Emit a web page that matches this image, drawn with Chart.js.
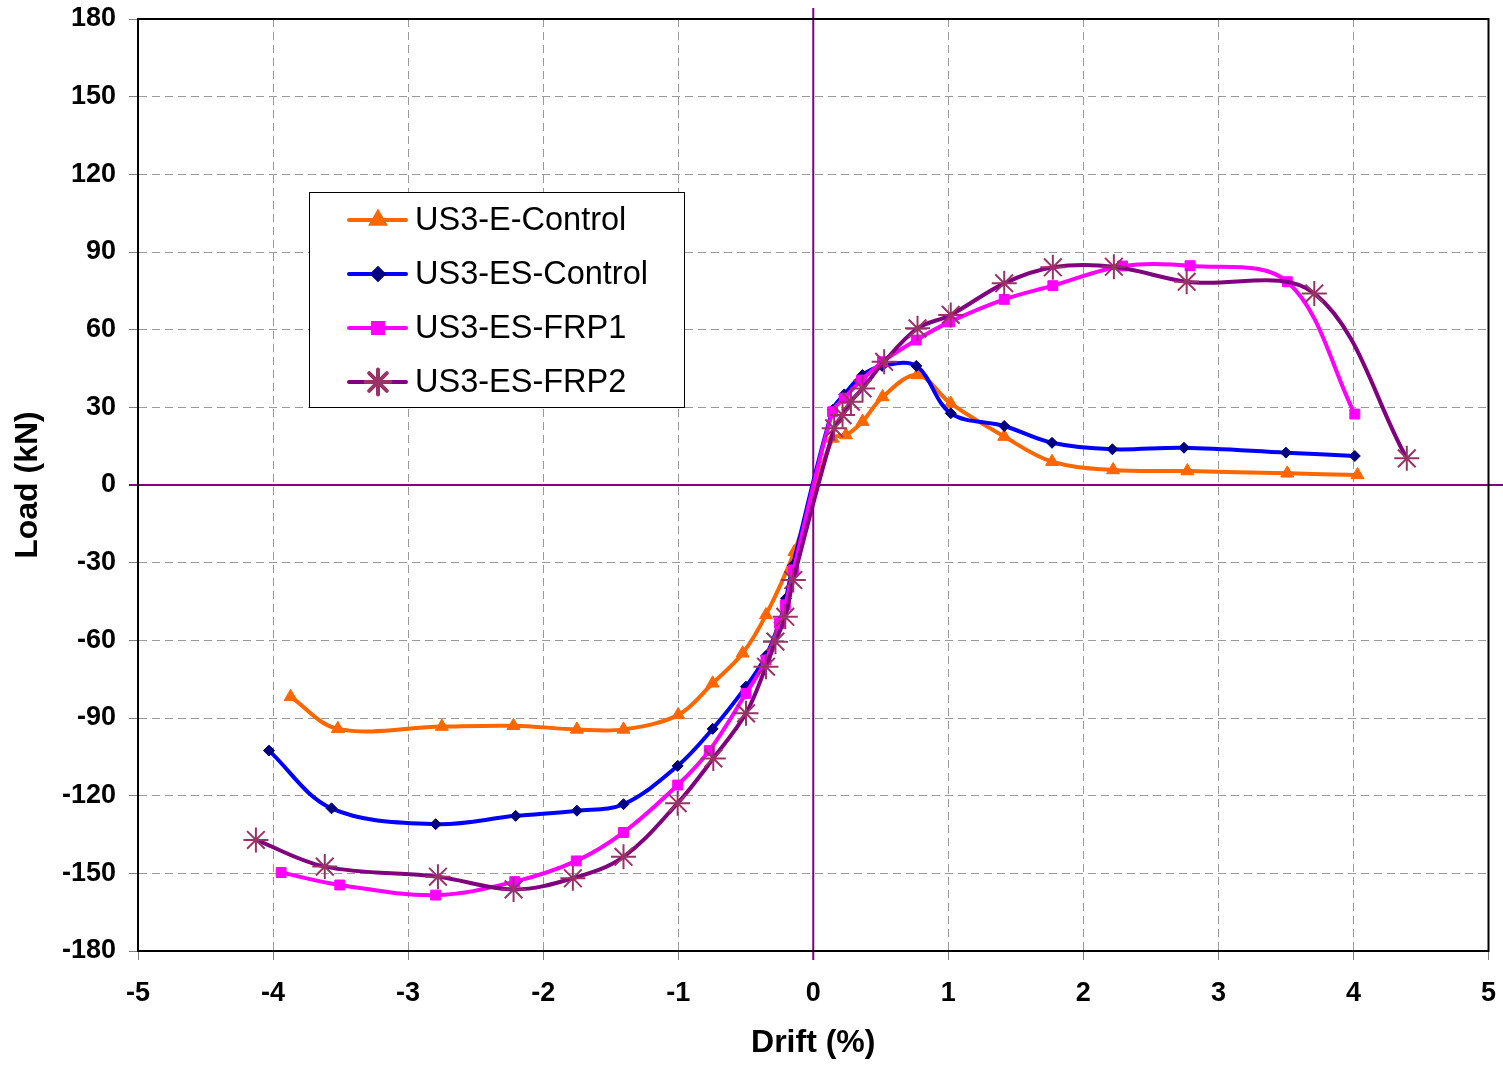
<!DOCTYPE html>
<html><head><meta charset="utf-8">
<script src="https://cdn.jsdelivr.net/npm/chart.js@4/dist/chart.umd.min.js"></script>
<style>html,body{margin:0;padding:0;background:#fff}#wrap{width:1503px;height:1067px}</style>
</head><body>
<div id="wrap"><canvas id="c" width="1503" height="1067"></canvas></div>
<script>
// ---- data ----
const seriesNames = ['US3-E-Control', 'US3-ES-Control', 'US3-ES-FRP1', 'US3-ES-FRP2'];

const eDrift = [-3.87, -3.52, -2.75, -2.22, -1.75, -1.405, -1.0, -0.745, -0.523, -0.35, -0.14,
                0.143, 0.242, 0.365, 0.513, 0.77, 1.018, 1.414, 1.768, 2.22, 2.77, 3.51, 4.03];
const eLoad  = [-81.8, -94.2, -93.3, -93.0, -94.4, -94.4, -88.8, -76.6, -65.0, -50.2, -25.8,
                18.0, 19.3, 24.5, 34.0, 42.5, 31.5, 18.7, 9.0, 5.8, 5.4, 4.5, 3.9];

const esDrift = [-4.03, -3.567, -2.796, -2.204, -1.75, -1.405, -1.004, -0.745, -0.498, -0.35, -0.25, -0.202, -0.15,
                 0.143, 0.23, 0.365, 0.51, 0.763, 1.018, 1.414, 1.768, 2.215, 2.745, 3.5, 4.01];
const esLoad  = [-102.6, -124.9, -131.0, -127.8, -125.8, -123.3, -108.5, -94.2, -77.9, -66.0, -53.0, -43.8, -31.0,
                 29.0, 35.0, 42.5, 46.0, 46.0, 27.7, 22.8, 16.3, 13.8, 14.4, 12.5, 11.2];

const frp1Drift = [-3.94, -3.506, -2.796, -2.21, -1.755, -1.405, -1.004, -0.77, -0.498, -0.35, -0.25, -0.207, -0.146,
                   0.143, 0.229, 0.357, 0.513, 0.763, 1.01, 1.414, 1.774, 2.29, 2.79, 3.51, 4.01];
const frp1Load  = [-149.7, -154.5, -158.4, -153.2, -145.2, -134.2, -115.9, -102.6, -80.5, -67.6, -53.4, -46.3, -32.8,
                   28.3, 33.5, 40.5, 47.6, 56.0, 63.0, 71.7, 77.0, 84.6, 84.7, 78.5, 27.4];

const frp2Drift = [-4.127, -3.617, -2.779, -2.219, -1.78, -1.405, -1.004, -0.74, -0.498, -0.35, -0.28, -0.207, -0.148,
                   0.155, 0.217, 0.279, 0.365, 0.525, 0.772, 1.018, 1.414, 1.774, 2.226, 2.765, 3.71, 4.395];
const frp2Load  = [-137.1, -147.4, -151.3, -156.2, -151.9, -143.6, -122.9, -105.6, -88.2, -70.2, -60.5, -50.9, -36.7,
                   21.9, 27.0, 32.2, 37.3, 47.6, 60.5, 65.7, 77.9, 84.1, 84.3, 78.5, 74.0, 10.3];

const xMin = -5, xMax = 5, xStep = 1;
const yMin = -180, yMax = 180, yStep = 30;
const xTitle = 'Drift (%)';
const yTitle = 'Load (kN)';

// ---- chart ----
const FONT = '"Liberation Sans", Arial, Helvetica, sans-serif';
const GRID = '#9a9a9a';
function pts(xs, ys) { return xs.map((x, i) => ({ x: x, y: ys[i] })); }

const styles = [
  { line: '#FF6600', fill: '#FF6600', border: '#FF6600', style: 'triangle', r: 7.5, bw: 1 },
  { line: '#0000FF', fill: '#000080', border: '#000080', style: 'rectRot', r: 5.5, bw: 1 },
  { line: '#FF00FF', fill: '#FF00FF', border: '#FF00FF', style: 'rect', r: 7, bw: 1 },
  { line: '#800080', fill: '#993366', border: '#993366', style: 'star', r: 12.5, bw: 2 }
];
const dataSets = [pts(eDrift, eLoad), pts(esDrift, esLoad), pts(frp1Drift, frp1Load), pts(frp2Drift, frp2Load)];

const datasets = dataSets.map((d, i) => ({
  label: seriesNames[i],
  data: d,
  showLine: true,
  borderColor: styles[i].line,
  borderWidth: 4,
  tension: 0.35,
  pointStyle: styles[i].style,
  pointRadius: styles[i].r,
  pointBackgroundColor: styles[i].fill,
  pointBorderColor: styles[i].border,
  pointBorderWidth: styles[i].bw,
  order: 4 - i
}));

const framePlugin = {
  id: 'frame',
  beforeDatasetsDraw(chart) {
    const { ctx, chartArea: a, scales: { x, y } } = chart;
    const x0 = x.getPixelForValue(0), y0 = y.getPixelForValue(0);
    ctx.save();
    ctx.strokeStyle = '#800080';
    ctx.lineWidth = 2;
    ctx.beginPath();
    ctx.moveTo(x0, a.top - 11); ctx.lineTo(x0, a.bottom + 9);
    ctx.moveTo(a.left - 9, y0); ctx.lineTo(chart.width, y0);
    ctx.stroke();
    ctx.strokeStyle = '#000';
    ctx.lineWidth = 2;
    ctx.strokeRect(a.left, a.top, a.right - a.left, a.bottom - a.top);
    ctx.restore();
  }
};

const legendPlugin = {
  id: 'boxLegend',
  afterDraw(chart) {
    const { ctx, chartArea: a } = chart;
    const bx = a.left + 171, by = a.top + 173, bw = 375, bh = 215;
    ctx.save();
    ctx.fillStyle = '#fff';
    ctx.fillRect(bx, by, bw, bh);
    ctx.strokeStyle = '#000';
    ctx.lineWidth = 1;
    ctx.strokeRect(bx + 0.5, by + 0.5, bw, bh);
    ctx.font = '32.5px ' + FONT;
    ctx.textBaseline = 'middle';
    ctx.textAlign = 'left';
    for (let i = 0; i < seriesNames.length; i++) {
      const cy = by + 28 + i * 54;
      const s = styles[i];
      ctx.strokeStyle = s.line;
      ctx.lineWidth = 4;
      ctx.lineCap = 'round';
      ctx.beginPath(); ctx.moveTo(bx + 40, cy); ctx.lineTo(bx + 97, cy); ctx.stroke();
      ctx.fillStyle = s.fill; ctx.strokeStyle = s.border;
      Chart.helpers.drawPoint(ctx, { pointStyle: s.style, radius: s.r, borderWidth: s.bw, rotation: 0 }, bx + 69, cy);
      ctx.fillStyle = '#000';
      ctx.fillText(seriesNames[i], bx + 106, cy + 1);
    }
    ctx.restore();
  }
};

new Chart(document.getElementById('c'), {
  type: 'scatter',
  data: { datasets: datasets },
  options: {
    responsive: false,
    animation: false,
    devicePixelRatio: 1,
    layout: { padding: { top: 19, right: 12, left: 0, bottom: 0 } },
    plugins: { legend: { display: false }, tooltip: { enabled: false } },
    scales: {
      x: {
        type: 'linear', min: xMin, max: xMax,
        afterFit(s) { s.height = 116; s.paddingLeft = 0; s.paddingRight = 0; },
        ticks: { stepSize: xStep, color: '#000', font: { family: FONT, size: 27, weight: 'bold' }, padding: 17 },
        grid: { color: GRID, lineWidth: 1, tickLength: 9, tickColor: '#808080', tickBorderDash: [] },
        border: { display: true, color: '#000', width: 2, dash: [8, 5] },
        title: { display: true, text: xTitle, color: '#000', font: { family: FONT, size: 32, weight: 'bold' }, padding: { top: 0, bottom: 5 } }
      },
      y: {
        type: 'linear', min: yMin, max: yMax,
        afterFit(s) { s.width = 138; s.paddingTop = 0; s.paddingBottom = 0; },
        ticks: { stepSize: yStep, color: '#000', font: { family: FONT, size: 27, weight: 'bold' }, padding: 13 },
        grid: { color: GRID, lineWidth: 1, tickLength: 9, tickColor: '#808080', tickBorderDash: [] },
        border: { display: true, color: '#000', width: 2, dash: [8, 5] },
        title: { display: true, text: yTitle, color: '#000', font: { family: FONT, size: 32, weight: 'bold' }, padding: { top: 9, bottom: 0 } }
      }
    }
  },
  plugins: [framePlugin, legendPlugin]
});
</script>
</body></html>
